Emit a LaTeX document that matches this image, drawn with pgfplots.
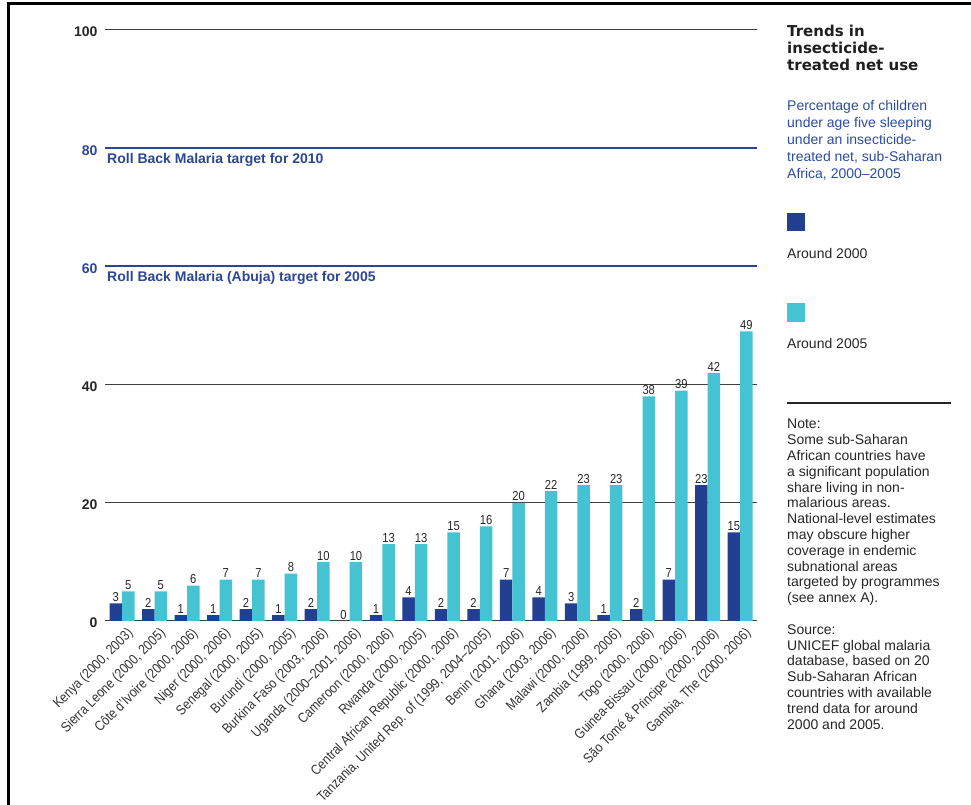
\documentclass[border=0pt]{standalone}
\usepackage{pgfplots}
\pgfplotsset{compat=1.18}
\usepackage{fontspec}
\setmainfont{Liberation Sans}
\newfontfamily\condfont[FakeStretch=0.86]{Liberation Sans}
\newfontfamily\titlefont{DejaVu Sans}
\definecolor{darkbar}{HTML}{22408F}
\definecolor{lightbar}{HTML}{46C3D3}
\definecolor{rbmblue}{HTML}{2B4696}
\definecolor{textblue}{HTML}{2E4C9E}
\begin{document}
\begin{tikzpicture}[x=1pt,y=1pt]
\useasboundingbox (0,0) rectangle (971,805);
\draw[line width=3pt] (8,0) -- (8,801) -- (971,801);
\begin{axis}[
  at={(105pt,184pt)}, anchor=south west, scale only axis,
  width=652pt, height=591pt,
  xmin=-0.5227, xmax=19.52, ymin=0, ymax=100,
  enlargelimits=false,
  /pgf/number format/assume math mode=true,
  ybar=0pt, bar width=12.5pt,
  axis line style={draw=none},
  major tick length=0pt,
  ytick={0,20,40,100},
  ymajorgrids,
  grid style={color=black!75, line width=1pt},
  extra y ticks={60,80},
  extra y tick labels={{\color{rbmblue}60},{\color{rbmblue}80}},
  extra y tick style={grid style={color=rbmblue, line width=2pt}},
  yticklabel style={font=\bfseries\fontsize{14}{14}\selectfont, color=black!85, xshift=-4pt, yshift=-2pt},
  xtick={0,...,19},
  xticklabels={
    {Kenya (2000, 2003)},
    {Sierra Leone (2000, 2005)},
    {Côte d’Ivoire (2000, 2006)},
    {Niger (2000, 2006)},
    {Senegal (2000, 2005)},
    {Burundi (2000, 2005)},
    {Burkina Faso (2003, 2006)},
    {Uganda (2000–2001, 2006)},
    {Cameroon (2000, 2006)},
    {Rwanda (2000, 2005)},
    {Central African Republic (2000, 2006)},
    {Tanzania, United Rep. of (1999, 2004–2005)},
    {Benin (2001, 2006)},
    {Ghana (2003, 2006)},
    {Malawi (2000, 2006)},
    {Zambia (1999, 2006)},
    {Togo (2000, 2006)},
    {Guinea-Bissau (2000, 2006)},
    {São Tomé \& Principe (2000, 2006)},
    {Gambia, The (2000, 2006)}},
  xticklabel style={font=\condfont\fontsize{14}{14}\selectfont, color=black!80, rotate=45, anchor=north east, inner sep=1pt, yshift=-6pt},
  nodes near coords,
  nodes near coords style={font=\condfont\fontsize{13}{13}\selectfont, color=black!85, inner sep=1.5pt},
  clip=false,
]
\addplot[fill=darkbar, draw=none] coordinates {
 (0,3) (1,2) (2,1) (3,1) (4,2) (5,1) (6,2) (7,0) (8,1) (9,4)
 (10,2) (11,2) (12,7) (13,4) (14,3) (15,1) (16,2) (17,7) (18,23) (19,15)};
\addplot[fill=lightbar, draw=none] coordinates {
 (0,5) (1,5) (2,6) (3,7) (4,7) (5,8) (6,10) (7,10) (8,13) (9,13)
 (10,15) (11,16) (12,20) (13,22) (14,23) (15,23) (16,38) (17,39) (18,42) (19,49)};
\node[anchor=north west, inner sep=0, font=\bfseries\fontsize{14}{14}\selectfont, color=rbmblue, xshift=2pt, yshift=-5pt] at (axis cs:-0.5227,80) {Roll Back Malaria target for 2010};
\node[anchor=north west, inner sep=0, font=\bfseries\fontsize{14}{14}\selectfont, color=rbmblue, xshift=2pt, yshift=-5pt] at (axis cs:-0.5227,60) {Roll Back Malaria (Abuja) target for 2005};
\end{axis}
\node[anchor=north west, inner sep=0, align=left, font=\titlefont\bfseries\fontsize{15}{17}\selectfont, color=black!88] at (787,780) {Trends in\\insecticide-\\treated net use};
\node[anchor=north west, inner sep=0, align=left, font=\fontsize{14}{17}\selectfont, color=textblue] at (787,705) {Percentage of children\\under age five sleeping\\under an insecticide-\\treated net, sub-Saharan\\Africa, 2000–2005};
\fill[darkbar] (787,574) rectangle (805,592);
\node[anchor=north west, inner sep=0, font=\fontsize{14}{17}\selectfont, color=black!85] at (787,557) {Around 2000};
\fill[lightbar] (787,483) rectangle (805,502);
\node[anchor=north west, inner sep=0, font=\fontsize{14}{17}\selectfont, color=black!85] at (787,467) {Around 2005};
\draw[line width=1.2pt, black!85] (787,402) -- (951,402);
\node[anchor=north west, inner sep=0, align=left, font=\fontsize{14}{15.8}\selectfont, color=black!85] at (787,386) {Note:\\Some sub-Saharan\\African countries have\\a significant population\\share living in non-\\malarious areas.\\National-level estimates\\may obscure higher\\coverage in endemic\\subnational areas\\targeted by programmes\\(see annex A).\\[15.8pt]Source:\\UNICEF global malaria\\database, based on 20\\Sub-Saharan African\\countries with available\\trend data for around\\2000 and 2005.};
\end{tikzpicture}
\end{document}
